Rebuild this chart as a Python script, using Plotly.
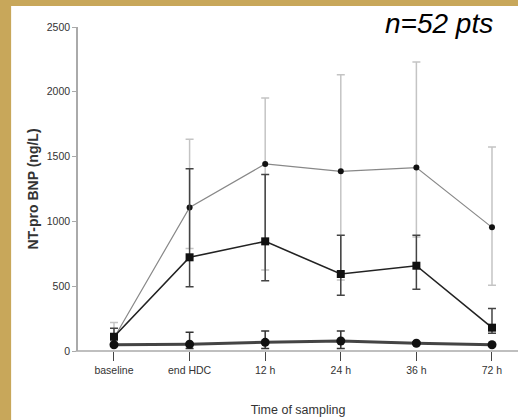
import plotly.graph_objects as go

categories = ["baseline", "end HDC", "12 h", "24 h", "36 h", "72 h"]
xpos = [0, 1, 2, 3, 4, 5]

# Series 1 (light grey line, small circles)
s1 = [100, 1108, 1443, 1386, 1415, 954]
s1_up = [120, 525, 510, 745, 815, 620]
s1_dn = [60, 318, 818, 838, 535, 447]

# Series 2 (black line, squares)
s2 = [110, 723, 846, 594, 658, 180]
s2_up = [65, 684, 515, 299, 235, 147]
s2_dn = [60, 227, 303, 164, 182, 44]

# Series 3 (thick line, large circles)
s3 = [48, 52, 67, 77, 60, 48]
s3_up = [10, 92, 87, 77, 10, 10]
s3_dn = [10, 32, 47, 57, 10, 10]

yticks = [0, 500, 1000, 1500, 2000, 2500]

tickfont = dict(family="Liberation Sans Narrow, Arial Narrow, Liberation Sans, sans-serif", size=10.5, color="#333")
gold = "#c8a75a"

fig = go.Figure()

fig.add_trace(go.Scatter(
    x=xpos, y=s1, mode="lines+markers",
    line=dict(color="#888888", width=1.2),
    marker=dict(color="#111", size=6, symbol="circle"),
    error_y=dict(type="data", array=s1_up, arrayminus=s1_dn, color="#c4c4c4", thickness=1.5, width=4),
    showlegend=False,
))
fig.add_trace(go.Scatter(
    x=xpos, y=s2, mode="lines+markers",
    line=dict(color="#222", width=1.6),
    marker=dict(color="#111", size=8, symbol="square"),
    error_y=dict(type="data", array=s2_up, arrayminus=s2_dn, color="#444", thickness=1.5, width=4),
    showlegend=False,
))
fig.add_trace(go.Scatter(
    x=xpos, y=s3, mode="lines+markers",
    line=dict(color="#444", width=3),
    marker=dict(color="#111", size=9, symbol="circle"),
    error_y=dict(type="data", array=s3_up, arrayminus=s3_dn, color="#333", thickness=1.5, width=4),
    showlegend=False,
))

# gold frame (left and top strips)
fig.add_shape(type="rect", xref="paper", yref="paper",
              x0=-0.5, x1=-0.152, y0=-0.5, y1=1.5,
              fillcolor=gold, line=dict(width=0), layer="below")
fig.add_shape(type="rect", xref="paper", yref="paper",
              x0=-0.5, x1=1.5, y0=1.065, y1=1.5,
              fillcolor=gold, line=dict(width=0), layer="below")
# x axis line continues to the right edge
fig.add_shape(type="line", xref="paper", yref="paper",
              x0=-0.005, x1=1.2, y0=0, y1=0,
              line=dict(color="#aaa", width=1.5), layer="below")

fig.add_annotation(text="<i>n=52 pts</i>", xref="paper", yref="paper",
                   x=0.948, y=1.01, xanchor="right", yanchor="middle", showarrow=False,
                   font=dict(family="Liberation Sans, Arial, sans-serif", size=28, color="#000"))

fig.update_layout(
    width=518, height=420,
    margin=dict(l=78, r=0, t=27, b=69, autoexpand=False),
    paper_bgcolor="white",
    plot_bgcolor="rgba(0,0,0,0)",
    xaxis=dict(
        range=[-0.476, 5.344], tickmode="array", tickvals=xpos, ticktext=categories,
        showgrid=False, zeroline=False, showline=False,
        ticks="outside", ticklen=9, tickcolor="#444", tickwidth=1.2,
        tickfont=tickfont,
        title=dict(text="Time of sampling", font=dict(family="Liberation Sans Narrow, Arial Narrow, sans-serif", size=12.5, color="#333"), standoff=30),
    ),
    yaxis=dict(
        range=[0, 2500], tickmode="array", tickvals=yticks,
        showgrid=False, zeroline=False, showline=True, linecolor="#aaa", linewidth=1.5,
        ticks="outside", ticklen=4, tickcolor="#aaa",
        tickfont=tickfont,
        title=dict(text="<b>NT-pro BNP (ng/L)</b>", font=dict(family="Liberation Sans, Arial, sans-serif", size=14, color="#333"), standoff=5),
    ),
)

fig.write_html("out.html")
